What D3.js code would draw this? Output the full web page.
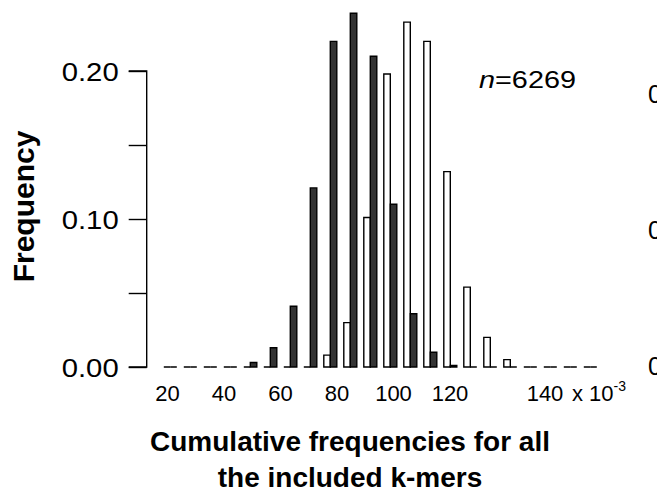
<!DOCTYPE html>
<html><head><meta charset="utf-8">
<script src="https://cdn.jsdelivr.net/npm/d3@7"></script>
<style>
body{margin:0;background:#fff}
svg{display:block}
text{font-family:"Liberation Sans",Arial,Helvetica,sans-serif;fill:#000}
</style>
</head><body>
<svg id="c" width="657" height="495"></svg>
<script>
// ---- data ----
const bins = [1,2,3,4,5,6,7,8,9,10,11,12,13,14,15,16,17,18,19,20,21,22];
const openFreq   = [0,0,0,0,0,0,0,0,0.008,0.030,0.101,0.198,0.233,0.220,0.132,0.054,0.020,0.005,0,0,0,0];
const filledFreq = [0,0,0,0,0.003,0.013,0.041,0.121,0.220,0.239,0.210,0.110,0.036,0.010,0.001,0,0,0,0,0,0,0];
const seriesNames = ["open","filled"];
const yTickValues = [0,0.05,0.10,0.15,0.20];
const yTickLabels = ["0.00","","0.10","","0.20"];
const xTickValues = [20,40,60,80,100,120,140];
const xTickLabels = ["20","40","60","80","100","120","140"];
const rightPanelLabels = ["0.20","0.10","0.00"];
const rightPanelValues = [0.20,0.10,0.00];
const nLabel = "6269";

// ---- scales ----
const svg = d3.select("#c");
const y = d3.scaleLinear().domain([0,0.20]).range([367,71]);
const x = d3.scaleBand().domain(bins).range([163.8,603.8]).padding(0);
const xs = d3.scaleBand().domain(seriesNames).range([0,13]);
const xLab = d3.scaleLinear().domain([20,120,140]).range([167.5,450,545]);
const y2 = d3.scaleLinear().domain([0,0.20]).range([366,94]);

// ---- bars ----
function barPath(x0,w,v){
  const y0 = y(0), y1 = y(v);
  return `M${x0},${y0}V${y1}H${x0+w}V${y0}Z`;
}
const rows = bins.map((b,i)=>({b, open:openFreq[i], filled:filledFreq[i]}));
const g = svg.append("g");
seriesNames.forEach(s=>{
  g.selectAll("path."+s).data(rows).join("path")
    .attr("class",s)
    .attr("d",d=>barPath(x(d.b)+xs(s), xs.bandwidth(), d[s]))
    .attr("fill", s==="open" ? "#fff" : "#333")
    .attr("stroke","#000")
    .attr("stroke-width",1.4)
    .attr("stroke-linejoin","miter");
});

// ---- y axis ----
const yAxis = d3.axisLeft(y).tickValues(yTickValues).tickSize(18)
  .tickFormat((d,i)=>yTickLabels[i]).tickPadding(10);
const ya = svg.append("g").attr("transform","translate(146.7,0)").call(yAxis);
ya.select(".domain").attr("d",`M-18,${y(0)}H0V${y(0.20)}H-18`).attr("stroke","#000").attr("stroke-width",1.4);
ya.selectAll(".tick line").attr("stroke","#000").attr("stroke-width",1.4);
ya.selectAll(".tick text").attr("font-size",25).attr("font-family","Liberation Sans, Arial, sans-serif")
  .attr("textLength",57).attr("lengthAdjust","spacingAndGlyphs").attr("dy","0.36em");

// ---- x labels ----
svg.append("g").selectAll("text").data(xTickValues).join("text")
  .attr("x",d=>xLab(d)).attr("y",401)
  .attr("text-anchor","middle").attr("font-size",22)
  .text((d,i)=>xTickLabels[i]);
const xm = svg.append("text").attr("x",572).attr("y",401).attr("font-size",22);
xm.append("tspan").text("x 10");
xm.append("tspan").attr("font-size",14).attr("dy",-10).text("-3");

// ---- titles ----
svg.append("text").attr("transform","translate(34,206.5) rotate(-90)")
  .attr("text-anchor","middle").attr("font-size",30).attr("font-weight","bold").text("Frequency");
svg.append("text").attr("x",350).attr("y",451).attr("text-anchor","middle")
  .attr("font-size",28).attr("font-weight","bold").text("Cumulative frequencies for all");
svg.append("text").attr("x",350).attr("y",487).attr("text-anchor","middle")
  .attr("font-size",28).attr("font-weight","bold").text("the included k-mers");

// ---- n label ----
const nt = svg.append("text").attr("x",479).attr("y",88).attr("font-size",23)
  .attr("textLength",97).attr("lengthAdjust","spacingAndGlyphs");
nt.append("tspan").attr("font-style","italic").text("n");
nt.append("tspan").text("="+nLabel);

// ---- neighbouring panel labels (cut off at right edge, as in the source figure) ----
svg.append("g").selectAll("text").data(rightPanelValues).join("text")
  .attr("x",648).attr("y",d=>y2(d)).attr("dy","0.36em").attr("font-size",25)
  .text((d,i)=>rightPanelLabels[i]);
</script>
</body></html>
